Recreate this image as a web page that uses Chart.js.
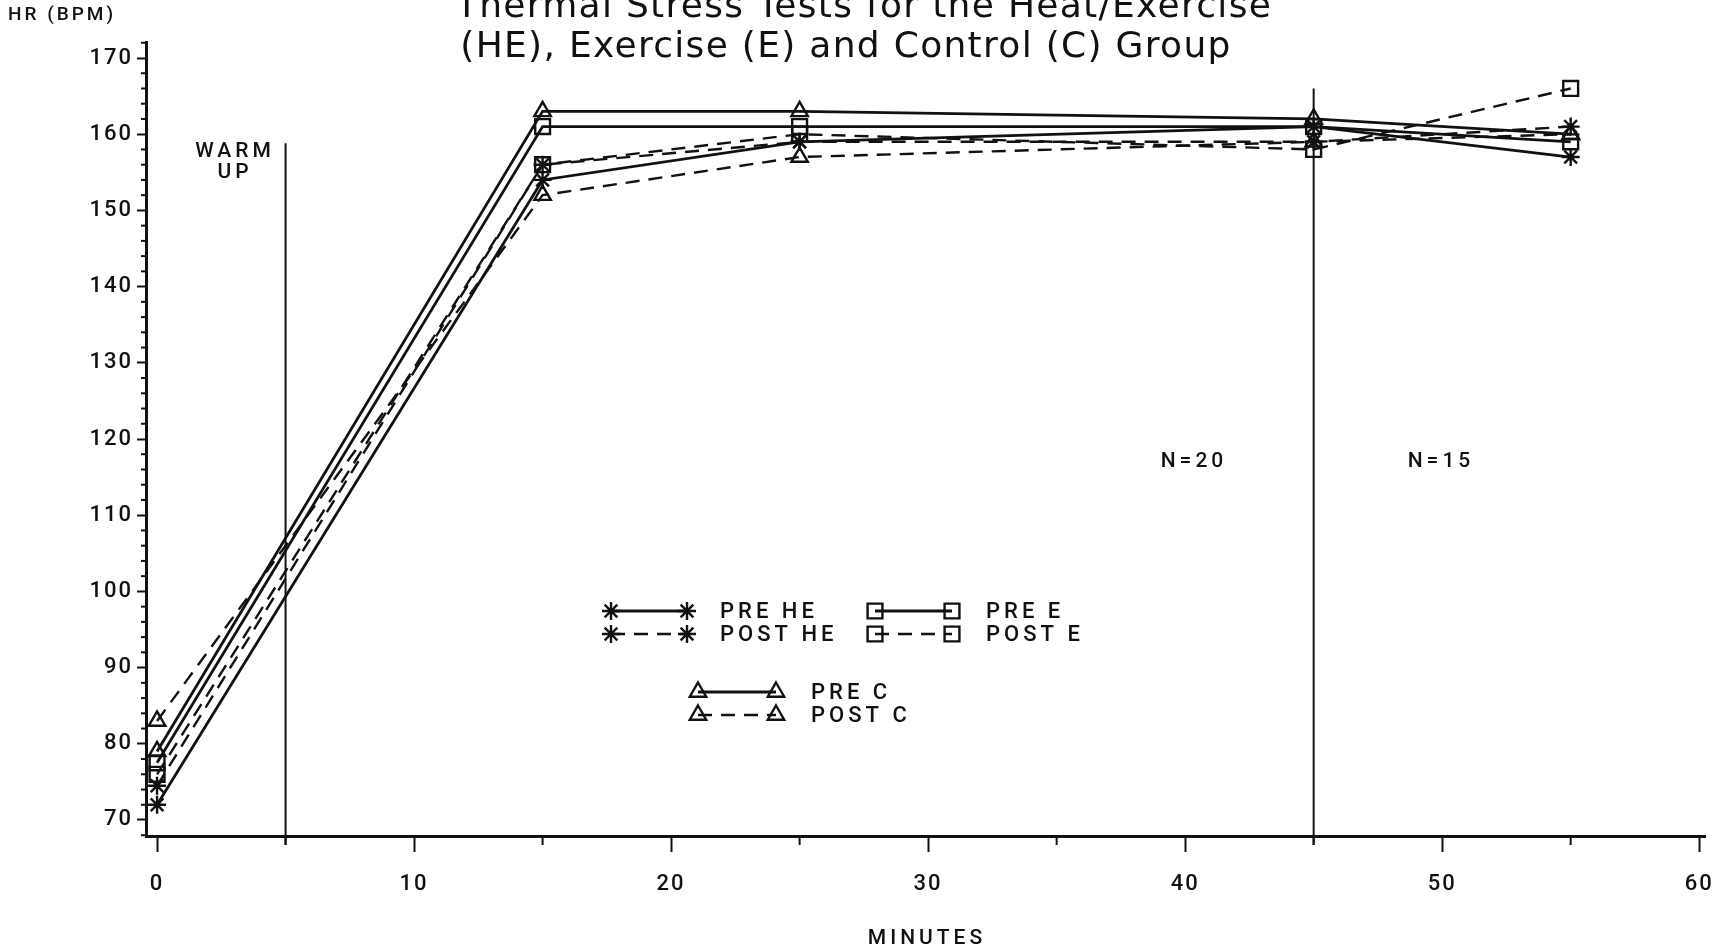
<!DOCTYPE html>
<html>
<head>
<meta charset="utf-8">
<script src="https://cdn.jsdelivr.net/npm/chart.js@4.4.1/dist/chart.umd.min.js"></script>
<style>
  html, body { margin: 0; padding: 0; background: #fff; }
  canvas { display: block; }
</style>
</head>
<body>
<canvas id="hrChart" width="1718" height="951"></canvas>
<script>
// heart rate (bpm) at each sampling time, one array per group/test
const minutes = [0, 15, 25, 45, 55];
const preHE  = [72, 154, 159, 161, 157];
const postHE = [74.5, 156, 159, 159, 161];
const preE   = [77.5, 161, 161, 161, 159];
const postE  = [76, 156, 160, 158, 166];
const preC   = [79, 163, 163, 162, 160];
const postC  = [83, 152, 157, 159, 160];

const xTicks = [0, 10, 20, 30, 40, 50, 60];
const yTicks = [70, 80, 90, 100, 110, 120, 130, 140, 150, 160, 170];

// phase markers: end of warm up, and where N drops from 20 to 15
const warmUpEnd = 5, warmUpTop = 158.8;
const nSplit = 45, nSplitTop = 166;

const INK = '#111';
const PLOT_FONT = 'Roboto, "DejaVu Sans", sans-serif';
const TITLE_FONT = '"DejaVu Sans", sans-serif';

function series(label, values, style, dashed) {
  return {
    label,
    data: minutes.map((m, i) => ({ x: m, y: values[i] })),
    borderColor: INK,
    borderWidth: dashed ? 2.4 : 2.8,
    borderDash: dashed ? [14, 9] : [],
    pointStyle: style,
    pointRadius: style === 'star' ? 9 : (style === 'rect' ? 10.5 : 9.5),
    pointBorderWidth: 2.4,
    pointBorderColor: INK,
    pointBackgroundColor: 'rgba(0,0,0,0)',
    fill: false,
    tension: 0,
    clip: false
  };
}

const datasets = [
  series('PRE HE', preHE, 'star', false),
  series('POST HE', postHE, 'star', true),
  series('PRE E', preE, 'rect', false),
  series('POST E', postE, 'rect', true),
  series('PRE C', preC, 'triangle', false),
  series('POST C', postC, 'triangle', true)
];

// legend blocks: dataset index, sample line start/end, text x, row y
const legendRows = [
  { ds: 0, x0: 611, x1: 687, tx: 720, y: 611 },
  { ds: 1, x0: 611, x1: 687, tx: 720, y: 634 },
  { ds: 2, x0: 875, x1: 952, tx: 986, y: 611 },
  { ds: 3, x0: 875, x1: 952, tx: 986, y: 634 },
  { ds: 4, x0: 698, x1: 776, tx: 811, y: 692 },
  { ds: 5, x0: 698, x1: 776, tx: 811, y: 715 }
];

function marker(ctx, ds, x, y) {
  ctx.save();
  ctx.setLineDash([]);
  ctx.strokeStyle = INK;
  ctx.fillStyle = 'rgba(0,0,0,0)';
  ctx.lineWidth = ds.pointBorderWidth;
  Chart.helpers.drawPoint(ctx, {
    pointStyle: ds.pointStyle,
    radius: ds.pointRadius,
    borderWidth: ds.pointBorderWidth,
    rotation: 0
  }, x, y);
  ctx.restore();
}

const decorations = {
  id: 'decorations',
  beforeDraw(chart) {
    // spacing for the axis tick labels
    chart.ctx.letterSpacing = '2px';
  },
  beforeDatasetsDraw(chart) {
    const { ctx, scales: { x, y } } = chart;
    ctx.save();
    ctx.strokeStyle = INK;
    ctx.lineWidth = 2;
    // warm-up boundary
    ctx.beginPath();
    ctx.moveTo(x.getPixelForValue(warmUpEnd), y.getPixelForValue(warmUpTop));
    ctx.lineTo(x.getPixelForValue(warmUpEnd), y.bottom + 9);
    ctx.stroke();
    // group size boundary
    ctx.beginPath();
    ctx.moveTo(x.getPixelForValue(nSplit), y.getPixelForValue(nSplitTop));
    ctx.lineTo(x.getPixelForValue(nSplit), y.bottom + 9);
    ctx.stroke();
    ctx.restore();
  },
  afterDraw(chart) {
    const { ctx, scales: { x, y } } = chart;
    ctx.save();
    ctx.strokeStyle = INK;
    ctx.fillStyle = INK;
    ctx.lineWidth = 2;

    // minor ticks
    for (let v = 68; v <= 172; v += 2) {
      if (v % 10 === 0) continue;
      const py = y.getPixelForValue(v);
      ctx.beginPath();
      ctx.moveTo(x.left - 5, py);
      ctx.lineTo(x.left + 2, py);
      ctx.stroke();
    }
    for (let v = 5; v < 60; v += 10) {
      const px = x.getPixelForValue(v);
      ctx.beginPath();
      ctx.moveTo(px, y.bottom);
      ctx.lineTo(px, y.bottom + 9);
      ctx.stroke();
    }

    // plot annotations
    ctx.letterSpacing = '4px';
    ctx.font = '500 21px ' + PLOT_FONT;
    ctx.textAlign = 'center';
    ctx.textBaseline = 'middle';
    ctx.fillText('WARM', 235, 152);
    ctx.fillText('UP', 235, 173);
    ctx.fillText('N=20', 1194, 462);
    ctx.fillText('N=15', 1441, 462);
    ctx.fillText('MINUTES', 927, 939);
    ctx.textAlign = 'left';
    ctx.letterSpacing = '3px';
    ctx.font = '500 19px ' + PLOT_FONT;
    ctx.fillText('HR (BPM)', 8, 15);

    // legend
    ctx.letterSpacing = '4px';
    ctx.font = '500 22px ' + PLOT_FONT;
    legendRows.forEach(r => {
      const ds = chart.data.datasets[r.ds];
      ctx.save();
      ctx.lineWidth = ds.borderWidth;
      ctx.setLineDash(ds.borderDash);
      ctx.beginPath();
      ctx.moveTo(r.x0, r.y);
      ctx.lineTo(r.x1, r.y);
      ctx.stroke();
      ctx.restore();
      marker(ctx, ds, r.x0, r.y);
      marker(ctx, ds, r.x1, r.y);
      ctx.textAlign = 'left';
      ctx.fillText(ds.label, r.tx, r.y + 1);
    });

    // title
    ctx.letterSpacing = '1.3px';
    ctx.font = '36px ' + TITLE_FONT;
    ctx.textAlign = 'center';
    ctx.textBaseline = 'alphabetic';
    ctx.fillText('Thermal Stress Tests for the Heat/Exercise', 864, 17);
    ctx.fillText('(HE), Exercise (E) and Control (C) Group', 846, 57);
    ctx.restore();
  }
};

Chart.defaults.font.family = PLOT_FONT;
Chart.defaults.font.weight = 500;
Chart.defaults.color = INK;

new Chart(document.getElementById('hrChart'), {
  type: 'line',
  data: { datasets },
  options: {
    responsive: false,
    animation: false,
    events: [],
    layout: { padding: { top: 42, right: 12, left: 0, bottom: 0 } },
    plugins: {
      legend: { display: false },
      title: { display: false },
      tooltip: { enabled: false }
    },
    scales: {
      x: {
        type: 'linear',
        min: -0.43,
        max: 60.23,
        afterBuildTicks: s => { s.ticks = xTicks.map(v => ({ value: v })); },
        afterFit: s => { s.height = 115; s.paddingLeft = 0; s.paddingRight = 0; },
        grid: { drawOnChartArea: false, tickLength: 16, tickWidth: 2, tickColor: INK },
        border: { display: true, width: 3, color: INK },
        ticks: { color: INK, font: { size: 22 }, padding: 19, maxRotation: 0, autoSkip: false }
      },
      y: {
        type: 'linear',
        min: 67.9,
        max: 172.1,
        afterBuildTicks: s => { s.ticks = yTicks.map(v => ({ value: v })); },
        afterFit: s => { s.width = 146; s.paddingTop = 0; s.paddingBottom = 0; },
        grid: { drawOnChartArea: false, tickLength: 9, tickWidth: 2, tickColor: INK },
        border: { display: true, width: 3, color: INK },
        ticks: { color: INK, font: { size: 22 }, padding: 4, autoSkip: false }
      }
    }
  },
  plugins: [decorations]
});
</script>
</body>
</html>
